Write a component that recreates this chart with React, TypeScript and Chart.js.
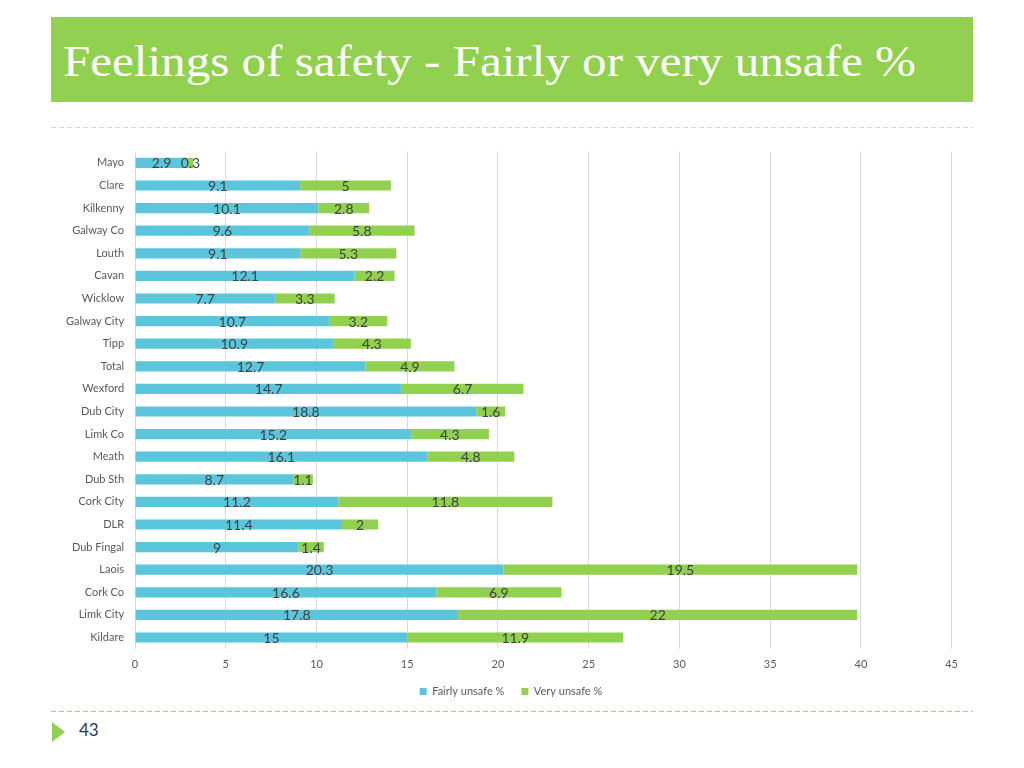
import React, { useEffect, useRef } from "react";
import { Chart, registerables } from "chart.js";

Chart.register(...registerables);

const categories = [
  "Mayo", "Clare", "Kilkenny", "Galway Co", "Louth", "Cavan", "Wicklow",
  "Galway City", "Tipp", "Total", "Wexford", "Dub City", "Limk Co", "Meath",
  "Dub Sth", "Cork City", "DLR", "Dub Fingal", "Laois", "Cork Co", "Limk City", "Kildare",
];
const fairlyUnsafe = [2.9, 9.1, 10.1, 9.6, 9.1, 12.1, 7.7, 10.7, 10.9, 12.7, 14.7, 18.8, 15.2, 16.1, 8.7, 11.2, 11.4, 9, 20.3, 16.6, 17.8, 15];
const veryUnsafe = [0.3, 5, 2.8, 5.8, 5.3, 2.2, 3.3, 3.2, 4.3, 4.9, 6.7, 1.6, 4.3, 4.8, 1.1, 11.8, 2, 1.4, 19.5, 6.9, 22, 11.9];
const seriesNames = ["Fairly unsafe %", "Very unsafe %"];
const xMin = 0;
const xMax = 45;
const xStep = 5;

const BLUE = "#5BC5DC";
const GREEN = "#92D050";
const FONT = "Lato, 'Open Sans', sans-serif";

const valueLabels = {
  id: "valueLabels",
  afterDatasetsDraw(chart: any) {
    const ctx = chart.ctx;
    ctx.save();
    ctx.font = `14px ${FONT}`;
    ctx.fillStyle = "#404040";
    ctx.textAlign = "center";
    ctx.textBaseline = "middle";
    chart.data.datasets.forEach((ds: any, i: number) => {
      const meta = chart.getDatasetMeta(i);
      meta.data.forEach((el: any, j: number) => {
        const v = ds.data[j];
        const cx = (el.x + el.base) / 2;
        ctx.fillText(String(v), cx, el.y + 1);
      });
    });
    ctx.restore();
  },
};

function BarChart() {
  const ref = useRef<HTMLCanvasElement | null>(null);
  useEffect(() => {
    if (!ref.current) return;
    const chart = new Chart(ref.current, {
      type: "bar",
      data: {
        labels: categories,
        datasets: [
          { label: seriesNames[0], data: fairlyUnsafe, backgroundColor: BLUE, barPercentage: 0.45, categoryPercentage: 1 },
          { label: seriesNames[1], data: veryUnsafe, backgroundColor: GREEN, barPercentage: 0.45, categoryPercentage: 1 },
        ],
      },
      options: {
        indexAxis: "y",
        animation: false,
        responsive: false,
        maintainAspectRatio: false,
        layout: { padding: { left: 0, right: 8, top: 0, bottom: 0 } },
        scales: {
          x: {
            stacked: true,
            min: xMin,
            max: xMax,
            ticks: { stepSize: xStep, color: "#595959", font: { family: FONT, size: 11 }, padding: 9 },
            grid: { color: "#D9D9D9", drawTicks: false },
            border: { display: false },
            afterFit: (scale: any) => { scale.height -= 11; },
          },
          y: {
            stacked: true,
            ticks: { color: "#595959", font: { family: FONT, size: 11 }, padding: 3 },
            grid: { display: false },
            border: { display: false },
          },
        },
        plugins: {
          legend: {
            position: "bottom",
            labels: { boxWidth: 7, boxHeight: 7, color: "#595959", font: { family: FONT, size: 11 }, padding: 17 },
          },
          tooltip: { enabled: false },
        },
      },
      plugins: [valueLabels],
    });
    return () => chart.destroy();
  }, []);
  return <canvas ref={ref} width={904} height={565} style={{ position: "absolute", left: 63, top: 142 }} />;
}

const dashed = (color: string) => ({
  height: 1,
  backgroundImage: `repeating-linear-gradient(to right, ${color} 0 5px, transparent 5px 8px)`,
});

export default function App() {
  return (
    <div style={{ position: "absolute", left: 0, top: 0, width: 1024, height: 768, background: "#fff", overflow: "hidden" }}>
      <div style={{ position: "absolute", left: 51, top: 17, width: 922, height: 85, background: GREEN }} />
      <div style={{ position: "absolute", left: 63, top: 37, color: "#fff", fontFamily: "'Liberation Serif', serif", fontSize: 44, whiteSpace: "nowrap", lineHeight: "50px", transform: "scaleX(1.115)", transformOrigin: "left center" }}>
        Feelings of safety - Fairly or very unsafe %
      </div>
      <div style={{ position: "absolute", left: 51, top: 127, width: 922, ...dashed("#CFE3A6") }} />
      <BarChart />
      <div style={{ position: "absolute", left: 51, top: 711, width: 922, ...dashed("#A9D36E") }} />
      <div style={{ position: "absolute", left: 52, top: 722, width: 0, height: 0, borderTop: "10px solid transparent", borderBottom: "10px solid transparent", borderLeft: "13px solid " + GREEN }} />
      <div style={{ position: "absolute", left: 79, top: 720, color: "#1F3864", fontFamily: FONT, fontSize: 17, lineHeight: "20px" }}>43</div>
    </div>
  );
}
